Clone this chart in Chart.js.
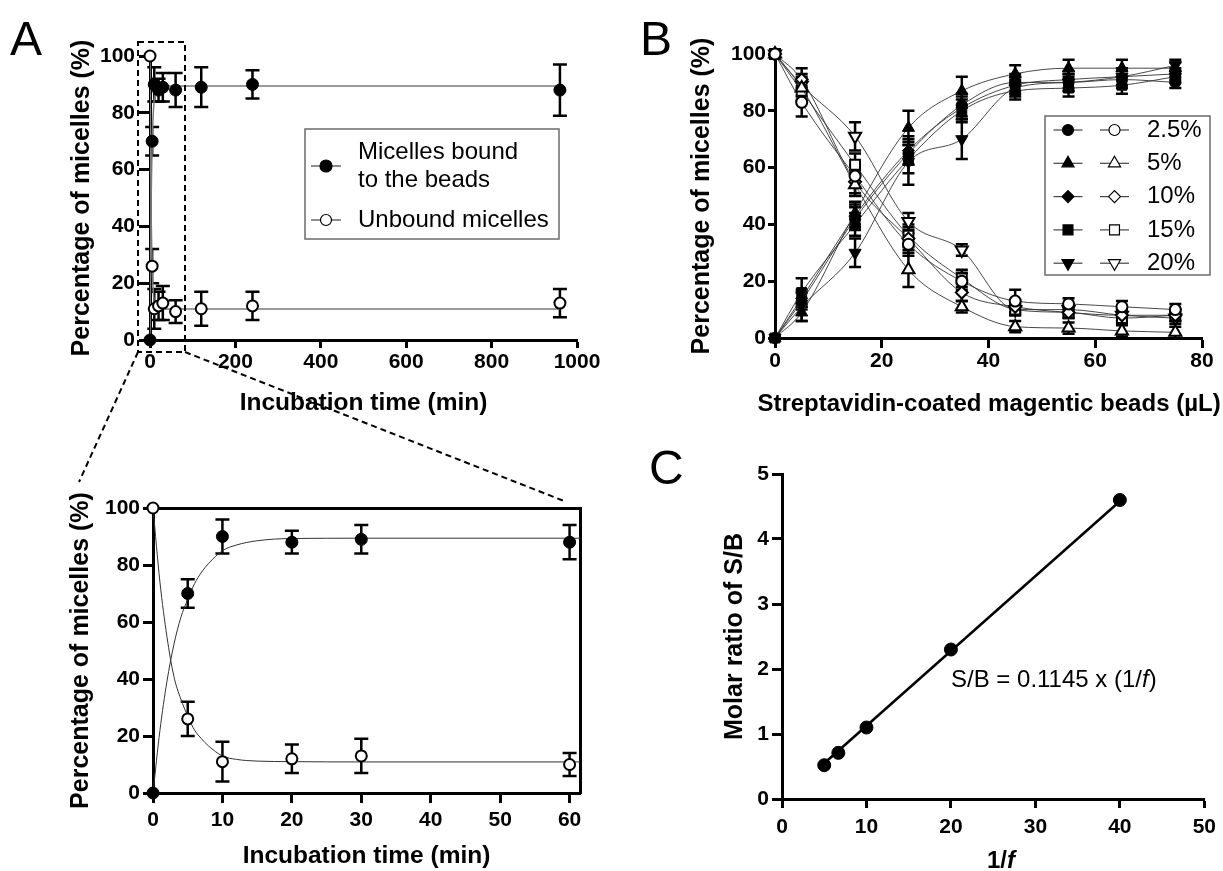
<!DOCTYPE html>
<html>
<head>
<meta charset="utf-8">
<script src="https://cdn.jsdelivr.net/npm/chart.js@4.4.1/dist/chart.umd.min.js"></script>
<style>
  body { margin: 0; background: #fff; width: 1223px; height: 871px; position: relative; overflow: hidden;
         font-family: "Liberation Sans", Arial, Helvetica, sans-serif; }
  .panel { position: absolute; }
  .letter { position: absolute; font-size: 48px; line-height: 48px; color: #000; }
  .note { position: absolute; font-size: 24px; line-height: 24px; color: #000; white-space: nowrap; }
</style>
</head>
<body>
<div class="panel" style="left:0;top:0;width:620px;height:420px"><canvas id="kineticsChart"></canvas></div>
<div class="panel" style="left:0;top:420px;width:620px;height:451px"><canvas id="insetChart"></canvas></div>
<div class="panel" style="left:620px;top:0;width:603px;height:420px"><canvas id="beadsChart"></canvas></div>
<div class="panel" style="left:620px;top:420px;width:603px;height:451px"><canvas id="ratioChart"></canvas></div>

<div class="letter" style="left:10px;top:15px">A</div>
<div class="letter" style="left:640px;top:15px">B</div>
<div class="letter" style="left:649px;top:444px">C</div>
<div class="note" style="left:951px;top:667px">S/B = 0.1145 x (1/<i>f</i>)</div>
<div class="note" style="left:1001px;top:848px;font-weight:bold;transform:translateX(-50%)">1/<i>f</i></div>
<div class="note" style="left:989px;top:391px;font-weight:bold;transform:translateX(-50%)">Streptavidin-coated magentic beads (µL)</div>

<svg width="1223" height="871" style="position:absolute;left:0;top:0;pointer-events:none">
  <g stroke="#000" stroke-width="2" stroke-dasharray="6 4" fill="none">
    <rect x="138" y="42" width="47" height="310"/>
    <line x1="138" y1="352" x2="79" y2="482"/>
    <line x1="185" y1="352" x2="564" y2="501"/>
  </g>
</svg>

<script>
// ---- panel A: binding kinetics ----
const incubationTime = [0, 5, 10, 20, 30, 60, 120, 240, 960];
const boundPct = [0, 70, 90, 88, 89, 88, 89, 90, 88];
const boundErr = [0, 5, 6, 4, 5, 6, 7, 5, 9];
const unboundPct = [100, 26, 11, 12, 13, 10, 11, 12, 13];
const unboundErr = [0, 6, 7, 5, 6, 4, 6, 5, 5];

// fitted curves
const fitTime = [0, 1, 2, 3, 4, 5, 6, 7, 8, 10, 12, 15, 20, 30, 60, 120, 240, 960];
const boundFit = [0, 22, 39, 52, 61.5, 68, 73.5, 77.5, 80.5, 85, 87, 88.5, 89.3, 89.4, 89.4, 89.4, 89.4, 89.4];
const unboundFit = [100, 74, 55, 41, 33, 27, 22, 19, 16.5, 13, 11.8, 11.2, 11, 10.9, 10.9, 10.9, 10.9, 10.9];

// ---- panel B: bead titration ----
const beadVol = [0, 5, 15, 25, 35, 45, 55, 65, 75];
const pctLabels = ["2.5%", "5%", "10%", "15%", "20%"];
const bound25 = [0, 13, 42, 65, 82, 90, 90, 91, 90];
const bound5 = [0, 9, 44, 74, 87, 93, 95, 95, 95];
const bound10 = [0, 14, 43, 66, 81, 89, 91, 92, 93];
const bound15 = [0, 16, 40, 63, 80, 87, 88, 89, 92];
const bound20 = [0, 11, 30, 62, 70, 88, 90, 92, 96];
const unbound25 = [100, 83, 57, 33, 20, 13, 12, 11, 10];
const unbound5 = [100, 88, 54, 24, 11, 4, 3.5, 2.5, 2];
const unbound10 = [100, 91, 55, 35, 16, 11, 9, 8, 8];
const unbound15 = [100, 87, 61, 36, 21, 10, 9, 7, 8];
const unbound20 = [100, 89, 71, 41, 31, 10, 10, 8, 7];
const errBound25 = [0, 3, 4, 4, 4, 3, 3, 3, 2];
const errBound5 = [0, 3, 4, 6, 5, 3, 3, 3, 2];
const errBound10 = [0, 3, 4, 5, 4, 3, 3, 3, 2];
const errBound15 = [0, 5, 4, 5, 4, 3, 3, 3, 2];
const errBound20 = [0, 5, 5, 8, 7, 3, 3, 3, 2];
const errUnbound25 = [0, 5, 4, 4, 3, 4, 2, 2, 2];
const errUnbound5 = [0, 4, 4, 6, 2, 2, 2, 2, 2];
const errUnbound10 = [0, 4, 4, 4, 3, 2, 2, 2, 2];
const errUnbound15 = [0, 4, 4, 4, 3, 2, 2, 2, 2];
const errUnbound20 = [0, 4, 5, 3, 2, 2, 2, 2, 2];

// ---- panel C: molar ratio ----
const invF = [5, 6.67, 10, 20, 40];
const ratioSB = [0.52, 0.71, 1.1, 2.3, 4.6];
const lineX = [5, 40];
const lineY = [0.55, 4.58];

const FONT = '"Liberation Sans", Arial, Helvetica, sans-serif';
Chart.defaults.font.family = FONT;
Chart.defaults.color = "#000";

// tick numbers in the figure are a condensed bold face; use it when present
function fontPresent(name) {
  const c = document.createElement("canvas").getContext("2d");
  c.font = "bold 40px monospace";
  const w0 = c.measureText("1000 abcMW").width;
  c.font = 'bold 40px "' + name + '", monospace';
  return Math.abs(c.measureText("1000 abcMW").width - w0) > 0.5;
}
const hasNarrow = fontPresent("Liberation Sans Narrow");
const tickFont = hasNarrow
  ? { family: '"Liberation Sans Narrow", ' + FONT, size: 23, weight: "bold" }
  : { size: 21, weight: "bold" };
const tickShift = hasNarrow ? 0 : 1;

const pts = (xs, ys) => xs.map((x, i) => ({ x: x, y: ys[i] }));

function axis(o) {
  return {
    type: "linear",
    display: true,
    position: o.pos,
    min: o.min,
    max: o.max,
    ticks: {
      display: o.labels !== false,
      stepSize: o.step,
      padding: (o.pad || 0) + (o.pos === "bottom" ? tickShift : 0),
      color: "#000",
      font: tickFont,
      maxRotation: 0,
      autoSkip: false,
      includeBounds: false,
      callback: (v) => String(v),
    },
    grid: {
      display: o.labels !== false,
      drawOnChartArea: false,
      drawTicks: true,
      tickLength: o.tl || 8,
      tickWidth: 3,
      tickColor: "#000",
    },
    border: { display: true, width: 3, color: "#000" },
    title: o.title
      ? { display: true, text: o.title, color: "#000", font: { size: o.ts || 25, weight: "bold" }, padding: o.tp }
      : { display: false },
    afterFit: (s) => {
      if (o.w != null) s.width = o.w;
      if (o.h != null) s.height = o.h;
    },
  };
}

const errorBarPlugin = {
  id: "errorBars",
  beforeDatasetsDraw(chart) {
    const ctx = chart.ctx;
    chart.data.datasets.forEach((ds, i) => {
      if (!ds.errorBars) return;
      const meta = chart.getDatasetMeta(i);
      const yScale = chart.scales[meta.yAxisID];
      const cap = ds.capHalf || 6;
      ctx.save();
      ctx.strokeStyle = "#000";
      ctx.lineWidth = 2.5;
      meta.data.forEach((pt, j) => {
        const e = ds.errorBars[j];
        if (!e) return;
        const v = ds.data[j].y;
        const top = yScale.getPixelForValue(v + e);
        const bot = yScale.getPixelForValue(v - e);
        ctx.beginPath();
        ctx.moveTo(pt.x, top); ctx.lineTo(pt.x, bot);
        ctx.moveTo(pt.x - cap, top); ctx.lineTo(pt.x + cap, top);
        ctx.moveTo(pt.x - cap, bot); ctx.lineTo(pt.x + cap, bot);
        ctx.stroke();
      });
      ctx.restore();
    });
  },
};

function boxLegend(cfg) {
  return {
    id: "boxLegend",
    afterDraw(chart) {
      const ctx = chart.ctx;
      ctx.save();
      ctx.strokeStyle = "#6b6b6b";
      ctx.lineWidth = 1.5;
      const b = cfg.box;
      ctx.strokeRect(b[0], b[1], b[2] - b[0], b[3] - b[1]);
      cfg.rows.forEach((row) => {
        row.symbols.forEach((s) => {
          ctx.strokeStyle = "#444";
          ctx.lineWidth = 1.2;
          ctx.beginPath();
          ctx.moveTo(s.x - cfg.half, row.y);
          ctx.lineTo(s.x + cfg.half, row.y);
          ctx.stroke();
          ctx.fillStyle = s.open ? "#fff" : "#000";
          ctx.strokeStyle = "#000";
          Chart.helpers.drawPoint(ctx, { pointStyle: s.style, radius: s.r, rotation: s.rot || 0, borderWidth: s.open ? 2 : 1 }, s.x, row.y);
        });
        ctx.fillStyle = "#000";
        ctx.font = "24px " + FONT;
        ctx.textBaseline = "middle";
        ctx.textAlign = "left";
        row.text.forEach((t, k) => ctx.fillText(t, cfg.textX, row.textY[k]));
      });
      ctx.restore();
    },
  };
}

const filledPoint = { pointStyle: "circle", pointRadius: 6, pointBackgroundColor: "#000", pointBorderColor: "#000", pointBorderWidth: 1 };
const openPoint = { pointStyle: "circle", pointRadius: 5.5, pointBackgroundColor: "#fff", pointBorderColor: "#000", pointBorderWidth: 2 };
const baseOptions = {
  responsive: true,
  maintainAspectRatio: false,
  animation: false,
  plugins: { legend: { display: false }, tooltip: { enabled: false } },
};

// ---------- A (full time course) ----------
new Chart(document.getElementById("kineticsChart"), {
  type: "scatter",
  data: {
    datasets: [
      Object.assign({ data: pts(incubationTime, boundPct), errorBars: boundErr, clip: false, showLine: false, capHalf: 7 }, filledPoint),
      Object.assign({ data: pts(incubationTime, unboundPct), errorBars: unboundErr, clip: false, showLine: false, capHalf: 7 }, openPoint),
      { data: pts(fitTime, boundFit), showLine: true, pointRadius: 0, borderColor: "#7a7a7a", borderWidth: 1.5, cubicInterpolationMode: "monotone" },
      { data: pts(fitTime, unboundFit), showLine: true, pointRadius: 0, borderColor: "#7a7a7a", borderWidth: 1.5, cubicInterpolationMode: "monotone" },
    ],
  },
  options: Object.assign({}, baseOptions, {
    layout: { padding: { left: 0, top: 56, right: 43, bottom: 0 } },
    scales: {
      x: axis({ pos: "bottom", min: 0, max: 1000, step: 200, tl: 8, pad: 1, h: 80, title: "Incubation time (min)", ts: 24.5, tp: { top: 0, bottom: 2 } }),
      y: axis({ pos: "left", min: 0, max: 100, step: 20, tl: 11, pad: 4, w: 150, title: "Percentage of micelles (%)", tp: { top: 67, bottom: 0 } }),
    },
  }),
  plugins: [
    errorBarPlugin,
    boxLegend({
      box: [305, 129, 559, 239], half: 15, textX: 358,
      rows: [
        { y: 166, symbols: [{ x: 326, style: "circle", r: 6 }], text: ["Micelles bound", "to the beads"], textY: [152, 180] },
        { y: 220, symbols: [{ x: 326, style: "circle", r: 5.5, open: true }], text: ["Unbound micelles"], textY: [220] },
      ],
    }),
  ],
});

// ---------- A (first 60 min) ----------
const insetN = incubationTime.filter((t) => t <= 60).length;
new Chart(document.getElementById("insetChart"), {
  type: "scatter",
  data: {
    datasets: [
      Object.assign({ data: pts(incubationTime.slice(0, insetN), boundPct), errorBars: boundErr, clip: false, showLine: false, capHalf: 7 }, filledPoint),
      Object.assign({ data: pts(incubationTime.slice(0, insetN), unboundPct), errorBars: unboundErr, clip: false, showLine: false, capHalf: 7 }, openPoint),
      { data: pts(fitTime, boundFit), showLine: true, pointRadius: 0, borderColor: "#333", borderWidth: 1, cubicInterpolationMode: "monotone" },
      { data: pts(fitTime, unboundFit), showLine: true, pointRadius: 0, borderColor: "#333", borderWidth: 1, cubicInterpolationMode: "monotone" },
    ],
  },
  options: Object.assign({}, baseOptions, {
    layout: { padding: { left: 0, top: 88, right: 40, bottom: 0 } },
    scales: {
      x: axis({ pos: "bottom", min: 0, max: 61.5, step: 10, tl: 10, pad: 4, h: 78, title: "Incubation time (min)", ts: 24.5, tp: { top: 0, bottom: 0 } }),
      y: axis({ pos: "left", min: 0, max: 100, step: 20, tl: 10, pad: 3, w: 153, title: "Percentage of micelles (%)", tp: { top: 66, bottom: 0 } }),
      x2: axis({ pos: "top", min: 0, max: 61.5, labels: false, h: 0 }),
      y2: axis({ pos: "right", min: 0, max: 100, labels: false, w: 0 }),
    },
  }),
  plugins: [errorBarPlugin],
});

// ---------- B ----------
const boundSets = [bound25, bound5, bound10, bound15, bound20];
const unboundSets = [unbound25, unbound5, unbound10, unbound15, unbound20];
const boundErrSets = [errBound25, errBound5, errBound10, errBound15, errBound20];
const unboundErrSets = [errUnbound25, errUnbound5, errUnbound10, errUnbound15, errUnbound20];
const markerShapes = [
  { style: "circle", r: 5.5, rot: 0 },
  { style: "triangle", r: 7, rot: 0 },
  { style: "rectRot", r: 6, rot: 0 },
  { style: "rect", r: 7, rot: 0 },
  { style: "triangle", r: 7, rot: 180 },
];
const beadDatasets = [];
pctLabels.forEach((lab, i) => {
  const m = markerShapes[i];
  const common = {
    showLine: true, clip: false, borderColor: "#333", borderWidth: 0.9, cubicInterpolationMode: "monotone",
    pointStyle: m.style, pointRadius: m.r, pointRotation: m.rot, pointBorderColor: "#000", capHalf: 6,
  };
  beadDatasets.push(Object.assign({ label: lab + " bound", data: pts(beadVol, boundSets[i]), errorBars: boundErrSets[i], pointBackgroundColor: "#000", pointBorderWidth: 1 }, common));
  beadDatasets.push(Object.assign({ label: lab + " unbound", data: pts(beadVol, unboundSets[i]), errorBars: unboundErrSets[i], pointBackgroundColor: "#fff", pointBorderWidth: 2 }, common));
});

new Chart(document.getElementById("beadsChart"), {
  type: "scatter",
  data: { datasets: beadDatasets },
  options: Object.assign({}, baseOptions, {
    layout: { padding: { left: 0, top: 54, right: 21, bottom: 0 } },
    scales: {
      // x title is set as page text below the axis: it is wider than the plot
      x: axis({ pos: "bottom", min: 0, max: 80, step: 20, tl: 10, pad: 0, h: 82 }),
      y: axis({ pos: "left", min: 0, max: 100, step: 20, tl: 7, pad: 2, w: 155, title: "Percentage of micelles (%)", tp: { top: 67, bottom: 0 } }),
    },
  }),
  plugins: [
    errorBarPlugin,
    boxLegend({
      box: [425, 116, 590, 275], half: 14.5, textX: 527,
      rows: pctLabels.map((lab, i) => ({
        y: 130 + 33.3 * i,
        symbols: [
          { x: 448, style: markerShapes[i].style, r: markerShapes[i].r, rot: markerShapes[i].rot },
          { x: 494.5, style: markerShapes[i].style, r: markerShapes[i].r, rot: markerShapes[i].rot, open: true },
        ],
        text: [lab],
        textY: [130 + 33.3 * i],
      })),
    }),
  ],
});

// ---------- C ----------
new Chart(document.getElementById("ratioChart"), {
  type: "scatter",
  data: {
    datasets: [
      Object.assign({ data: pts(invF, ratioSB), clip: false, showLine: false }, filledPoint, { pointRadius: 6.5 }),
      { data: pts(lineX, lineY), showLine: true, pointRadius: 0, borderColor: "#000", borderWidth: 2.5 },
    ],
  },
  options: Object.assign({}, baseOptions, {
    layout: { padding: { left: 0, top: 54, right: 12, bottom: 0 } },
    scales: {
      x: axis({ pos: "bottom", min: 0, max: 50, step: 10, tl: 9, pad: 6, h: 72 }),
      y: axis({ pos: "left", min: 0, max: 5, step: 1, tl: 10, pad: 3, w: 162, title: "Molar ratio of S/B", tp: { top: 100, bottom: 0 } }),
    },
  }),
});
</script>
</body>
</html>
